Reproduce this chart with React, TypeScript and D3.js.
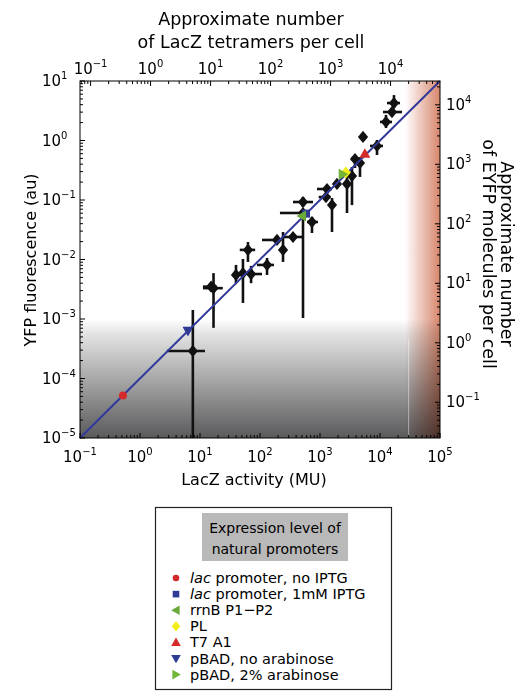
import React from "react";
import * as d3 from "d3";

// ---- data ----
const bx = [7.6, 16.8, 15.3, 39.8, 52, 71, 63, 131, 242, 192, 355, 521, 521, 735, 1309, 1259, 1585, 1919, 2818, 3412, 3830, 4640, 5210, 8913, 12590, 15850, 17100];
const by = [2.9e-4, 3.3e-3, 3.5e-3, 5.5e-3, 5.9e-3, 5.7e-3, 0.0145, 8.1e-3, 0.0145, 0.0213, 0.0239, 0.0925, 0.0605, 0.0427, 0.153, 0.112, 0.0824, 0.186, 0.186, 0.253, 0.489, 0.419, 1.15, 0.81, 2.05, 3.01, 4.26];
const bxLo = [2.8, 11.2, 11.2, 36, 47, 61, 46, 89, 220, 108, 233, 355, 215, 607, 891, 950, 1450, 1750, 2600, 3150, 3300, 4200, 5210, 6810, 10000, 11220, 13090];
const bxHi = [12.1, 24, 19, 44, 57, 108, 83, 171, 265, 215, 521, 764, 560, 926, 1585, 1500, 1750, 2100, 3050, 3700, 4400, 5100, 5210, 11220, 15850, 23260, 21540];
const byLo = [1e-5, 7.1e-4, 3.5e-3, 4.0e-3, 1.86e-3, 4.0e-3, 9.1e-3, 5.5e-3, 9.1e-3, 0.019, 0.021, 0.076, 1.04e-3, 0.0279, 0.14, 0.104, 0.029, 0.17, 0.0605, 0.082, 0.345, 0.244, 1.15, 0.57, 1.62, 2.8, 3.5];
const byHi = [1.42e-3, 5.9e-3, 3.5e-3, 8.1e-3, 1.02e-2, 7.8e-3, 0.0197, 0.0106, 0.029, 0.024, 0.027, 0.112, 0.0605, 0.052, 0.17, 0.12, 0.108, 0.2, 0.284, 0.359, 0.57, 0.528, 1.15, 1.02, 2.69, 3.2, 5.8];

const promoterNames = ["lac promoter, no IPTG", "lac promoter, 1mM IPTG", "rrnB P1\u2212P2", "PL", "T7 A1", "pBAD, no arabinose", "pBAD, 2% arabinose"];
const promoterX = [0.52, 585, 500, 2700, 5600, 6.3, 2400];
const promoterY = [5.2e-5, 0.059, 0.054, 0.29, 0.6, 6.3e-4, 0.27];
const promoterColor = ["#d42a2a", "#2e3a94", "#6aa93a", "#f2ee1c", "#d42a2a", "#2e3a94", "#72b537"];
const promoterShape = ["circle", "square", "tri-left", "diamond", "tri-up", "tri-down", "tri-right"];

const fitX = [0.1, 1e5];
const fitSlope = 1e-4;

const bottomTicks = [-1, 0, 1, 2, 3, 4, 5];
const leftTicks = [-5, -4, -3, -2, -1, 0, 1];
const topTicks = [-1, 0, 1, 2, 3, 4];
const rightTicks = [-1, 0, 1, 2, 3, 4];

const tetramerFactor = 1.5; // MU per tetramer
const moleculeFactor = 2512; // molecules per au

const FONT = "DejaVu Sans";

const X0 = 80, X1 = 440, Y0 = 81, Y1 = 438;

const x = d3.scaleLog().domain([0.1, 1e5]).range([X0, X1]);
const y = d3.scaleLog().domain([1e-5, 10]).range([Y1, Y0]);
const xTop = d3.scaleLog().domain([0.1 / tetramerFactor, 1e5 / tetramerFactor]).range([X0, X1]);
const yRight = d3.scaleLog().domain([1e-5 * moleculeFactor, 10 * moleculeFactor]).range([Y1, Y0]);

function minorTicks(scale: any) {
  const [a, b] = scale.domain();
  const out: { v: number; major: boolean }[] = [];
  for (let k = Math.floor(Math.log10(a)) - 1; k <= Math.ceil(Math.log10(b)); k++) {
    for (let m = 1; m <= 9; m++) {
      const v = m * Math.pow(10, k);
      if (v >= a * 0.9999 && v <= b * 1.0001) out.push({ v, major: m === 1 });
    }
  }
  return out;
}

function expLabel(e: number) {
  return e < 0 ? "\u2212" + Math.abs(e) : String(e);
}

function Marker({ shape, cx, cy, color, s = 5 }: any) {
  if (shape === "circle") return <circle cx={cx} cy={cy} r={s - 0.5} fill={color} />;
  if (shape === "square") return <rect x={cx - s + 0.5} y={cy - s + 0.5} width={2 * s - 1} height={2 * s - 1} fill={color} />;
  if (shape === "diamond") return <path d={`M${cx},${cy - s - 1.5}L${cx + s + 0.5},${cy}L${cx},${cy + s + 1.5}L${cx - s - 0.5},${cy}Z`} fill={color} />;
  const r = s + 1;
  let pts: number[][] = [];
  if (shape === "tri-up") pts = [[0, -r], [r, r * 0.75], [-r, r * 0.75]];
  if (shape === "tri-down") pts = [[0, r], [r, -r * 0.75], [-r, -r * 0.75]];
  if (shape === "tri-left") pts = [[-r, 0], [r * 0.75, -r], [r * 0.75, r]];
  if (shape === "tri-right") pts = [[r, 0], [-r * 0.75, -r], [-r * 0.75, r]];
  return <path d={"M" + pts.map((p) => `${cx + p[0]},${cy + p[1]}`).join("L") + "Z"} fill={color} />;
}

export default function App() {
  const grayTop = y(1e-3);
  const redLeft = x(2.6e4);
  const line = d3.line<number>().x((d) => x(d)).y((d) => y(d * fitSlope));

  const bTicks = minorTicks(x);
  const lTicks = minorTicks(y);
  const tTicks = minorTicks(xTop);
  const rTicks = minorTicks(yRight);

  return (
    <svg width={528} height={698} style={{ display: "block", position: "absolute", left: 0, top: 0 }} fontFamily={FONT}>
      <defs>
        <linearGradient id="gray" x1="0" y1="0" x2="0" y2="1">
          <stop offset="0" stopColor="#ffffff" />
          <stop offset="0.12" stopColor="#e4e4e4" />
          <stop offset="1" stopColor="#5a5a5c" />
        </linearGradient>
        <linearGradient id="red" x1="0" y1="0" x2="1" y2="0">
          <stop offset="0" stopColor="#ffffff" />
          <stop offset="1" stopColor="#d7866c" />
        </linearGradient>
      </defs>
      <rect x={0} y={0} width={528} height={698} fill="#fff" />
      {/* background regions */}
      <rect x={X0} y={grayTop} width={X1 - X0} height={Y1 - grayTop} fill="url(#gray)" />
      <rect x={redLeft} y={Y0} width={X1 - redLeft} height={Y1 - Y0} fill="url(#red)" style={{ mixBlendMode: "multiply" }} />
      <line x1={x(3e4)} x2={x(3e4)} y1={grayTop + 20} y2={Y1} stroke="#ffffff" strokeOpacity={0.45} strokeWidth={1} />

      {/* error bars */}
      <g stroke="#111" strokeWidth={2.6}>
        {bx.map((v, i) => (
          <g key={i}>
            {bxLo[i] !== bxHi[i] && <line x1={x(bxLo[i])} x2={x(bxHi[i])} y1={y(by[i])} y2={y(by[i])} />}
            {byLo[i] !== byHi[i] && <line x1={x(v)} x2={x(v)} y1={y(byLo[i])} y2={y(byHi[i])} />}
          </g>
        ))}
      </g>
      {bx.map((v, i) => (
        <Marker key={i} shape="diamond" cx={x(v)} cy={y(by[i])} color="#111" s={4.6} />
      ))}

      {/* fit line */}
      <path d={line(fitX) || ""} fill="none" stroke="#33399a" strokeWidth={2} />

      {promoterX.map((v, i) => (
        <Marker key={i} shape={promoterShape[i]} cx={x(v)} cy={y(promoterY[i])} color={promoterColor[i]} s={4.5} />
      ))}

      {/* frame */}
      <rect x={X0} y={Y0} width={X1 - X0} height={Y1 - Y0} fill="none" stroke="#000" strokeWidth={1} />

      {/* ticks */}
      <g stroke="#000" strokeWidth={1}>
        {bTicks.map((t, i) => (
          <line key={"b" + i} x1={x(t.v)} x2={x(t.v)} y1={Y1} y2={Y1 - (t.major ? 5 : 3)} />
        ))}
        {lTicks.map((t, i) => (
          <line key={"l" + i} x1={X0} x2={X0 + (t.major ? 5 : 3)} y1={y(t.v)} y2={y(t.v)} />
        ))}
        {tTicks.map((t, i) => (
          <line key={"t" + i} x1={xTop(t.v)} x2={xTop(t.v)} y1={Y0} y2={Y0 + (t.major ? 5 : 3)} />
        ))}
        {rTicks.map((t, i) => (
          <line key={"r" + i} x1={X1} x2={X1 - (t.major ? 5 : 3)} y1={yRight(t.v)} y2={yRight(t.v)} />
        ))}
      </g>

      {/* tick labels */}
      <g fontSize={15} fill="#000">
        {bottomTicks.map((e) => (
          <text key={"bl" + e} x={x(Math.pow(10, e))} y={462} textAnchor="middle">
            10<tspan dy={-7} fontSize={10}>{expLabel(e)}</tspan>
          </text>
        ))}
        {leftTicks.map((e) => (
          <text key={"ll" + e} x={42} y={y(Math.pow(10, e)) + 5}>
            10<tspan dy={-7} fontSize={10}>{expLabel(e)}</tspan>
          </text>
        ))}
        {topTicks.map((e) => (
          <text key={"tl" + e} x={xTop(Math.pow(10, e))} y={74} textAnchor="middle">
            10<tspan dy={-7} fontSize={10}>{expLabel(e)}</tspan>
          </text>
        ))}
        {rightTicks.map((e) => (
          <text key={"rl" + e} x={446} y={yRight(Math.pow(10, e)) + 5}>
            10<tspan dy={-7} fontSize={10}>{expLabel(e)}</tspan>
          </text>
        ))}
      </g>

      {/* axis titles */}
      <text x={254} y={485} textAnchor="middle" fontSize={16}>LacZ activity (MU)</text>
      <text transform="translate(36,260) rotate(-90)" textAnchor="middle" fontSize={16}>YFP fluorescence (au)</text>
      <text x={251} y={25} textAnchor="middle" fontSize={17.5}>Approximate number</text>
      <text x={251} y={48} textAnchor="middle" fontSize={17.5}>of LacZ tetramers per cell</text>
      <text transform="translate(501,254) rotate(90)" textAnchor="middle" fontSize={17.5}>Approximate number</text>
      <text transform="translate(483,254) rotate(90)" textAnchor="middle" fontSize={17.5}>of EYFP molecules per cell</text>

      {/* legend */}
      <rect x={155.5} y={507.5} width={236} height={182} fill="#fff" stroke="#222" strokeWidth={1.2} />
      <rect x={202} y={513} width={146} height={48} fill="#b9b9b9" />
      <text x={275} y={533} textAnchor="middle" fontSize={14}>Expression level of</text>
      <text x={275} y={554} textAnchor="middle" fontSize={14}>natural promoters</text>
      {promoterNames.map((n, i) => {
        const cy = 578 + i * 16.1;
        const italic = n.startsWith("lac ");
        return (
          <g key={n}>
            <Marker shape={promoterShape[i]} cx={176} cy={cy} color={promoterColor[i]} s={3.8} />
            <text x={190} y={cy + 5} fontSize={14.5}>
              {italic ? (
                <>
                  <tspan fontStyle="italic">lac</tspan>
                  {n.slice(3)}
                </>
              ) : (
                n
              )}
            </text>
          </g>
        );
      })}
    </svg>
  );
}
